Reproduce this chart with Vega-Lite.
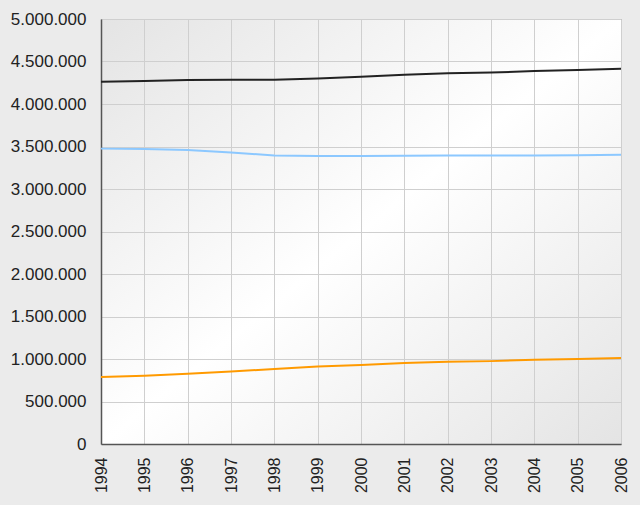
{
  "$schema": "https://vega.github.io/schema/vega-lite/v6.json",
  "width": 520,
  "height": 425,
  "autosize": {"type": "none"},
  "padding": {"left": 101, "top": 19, "right": 19, "bottom": 61},
  "background": "#ebebeb",
  "config": {
    "locale": {"number": {"decimal": ",", "thousands": ".", "grouping": [3], "currency": ["", " €"]}},
    "view": {
      "stroke": "#8a8a8a",
      "strokeWidth": 1,
      "fill": {"gradient": "linear", "x1": 0, "y1": 0, "x2": 1, "y2": 1, "stops": [{"offset": 0, "color": "#e4e4e4"}, {"offset": 0.5, "color": "#ffffff"}, {"offset": 1, "color": "#e4e4e4"}]}
    },
    "axis": {
      "labelFont": "Liberation Sans",
      "labelColor": "#222222",
      "gridColor": "#cfcfcf",
      "gridWidth": 1,
      "gridOpacity": 1,
      "domainColor": "#555555",
      "domainWidth": 1.5,
      "ticks": false,
      "title": null
    }
  },
  "data": {
    "values": [
      {"year": 1994, "series": "Reihe 1", "value": 4262000},
      {"year": 1995, "series": "Reihe 1", "value": 4272000},
      {"year": 1996, "series": "Reihe 1", "value": 4283000},
      {"year": 1997, "series": "Reihe 1", "value": 4284000},
      {"year": 1998, "series": "Reihe 1", "value": 4285000},
      {"year": 1999, "series": "Reihe 1", "value": 4300000},
      {"year": 2000, "series": "Reihe 1", "value": 4320000},
      {"year": 2001, "series": "Reihe 1", "value": 4344000},
      {"year": 2002, "series": "Reihe 1", "value": 4362000},
      {"year": 2003, "series": "Reihe 1", "value": 4370000},
      {"year": 2004, "series": "Reihe 1", "value": 4387000},
      {"year": 2005, "series": "Reihe 1", "value": 4399000},
      {"year": 2006, "series": "Reihe 1", "value": 4415000},
      {"year": 1994, "series": "Reihe 2", "value": 3475000},
      {"year": 1995, "series": "Reihe 2", "value": 3472000},
      {"year": 1996, "series": "Reihe 2", "value": 3458000},
      {"year": 1997, "series": "Reihe 2", "value": 3430000},
      {"year": 1998, "series": "Reihe 2", "value": 3394000},
      {"year": 1999, "series": "Reihe 2", "value": 3389000},
      {"year": 2000, "series": "Reihe 2", "value": 3388000},
      {"year": 2001, "series": "Reihe 2", "value": 3391000},
      {"year": 2002, "series": "Reihe 2", "value": 3393000},
      {"year": 2003, "series": "Reihe 2", "value": 3394000},
      {"year": 2004, "series": "Reihe 2", "value": 3395000},
      {"year": 2005, "series": "Reihe 2", "value": 3396000},
      {"year": 2006, "series": "Reihe 2", "value": 3404000},
      {"year": 1994, "series": "Reihe 3", "value": 787000},
      {"year": 1995, "series": "Reihe 3", "value": 803000},
      {"year": 1996, "series": "Reihe 3", "value": 826000},
      {"year": 1997, "series": "Reihe 3", "value": 854000},
      {"year": 1998, "series": "Reihe 3", "value": 881000},
      {"year": 1999, "series": "Reihe 3", "value": 913000},
      {"year": 2000, "series": "Reihe 3", "value": 928000},
      {"year": 2001, "series": "Reihe 3", "value": 952000},
      {"year": 2002, "series": "Reihe 3", "value": 967000},
      {"year": 2003, "series": "Reihe 3", "value": 975000},
      {"year": 2004, "series": "Reihe 3", "value": 991000},
      {"year": 2005, "series": "Reihe 3", "value": 999000},
      {"year": 2006, "series": "Reihe 3", "value": 1011000}
    ]
  },
  "mark": {"type": "line", "strokeWidth": 2},
  "encoding": {
    "x": {
      "field": "year",
      "type": "quantitative",
      "scale": {"domain": [1994, 2006], "nice": false, "zero": false},
      "axis": {
        "values": [1994, 1995, 1996, 1997, 1998, 1999, 2000, 2001, 2002, 2003, 2004, 2005, 2006],
        "format": "d",
        "labelFontSize": 16,
        "labelAngle": -90,
        "labelAlign": "right",
        "labelBaseline": "middle",
        "labelPadding": 13,
        "labelFlush": false,
        "labelOverlap": false
      }
    },
    "y": {
      "field": "value",
      "type": "quantitative",
      "scale": {"domain": [0, 5000000], "nice": false},
      "axis": {
        "values": [0, 500000, 1000000, 1500000, 2000000, 2500000, 3000000, 3500000, 4000000, 4500000, 5000000],
        "format": ",d",
        "labelFontSize": 17,
        "labelPadding": 15,
        "labelFlush": false,
        "labelOverlap": false
      }
    },
    "color": {
      "field": "series",
      "type": "nominal",
      "scale": {"domain": ["Reihe 1", "Reihe 2", "Reihe 3"], "range": ["#222222", "#8cc8ff", "#ff9a00"]},
      "legend": null
    }
  }
}
